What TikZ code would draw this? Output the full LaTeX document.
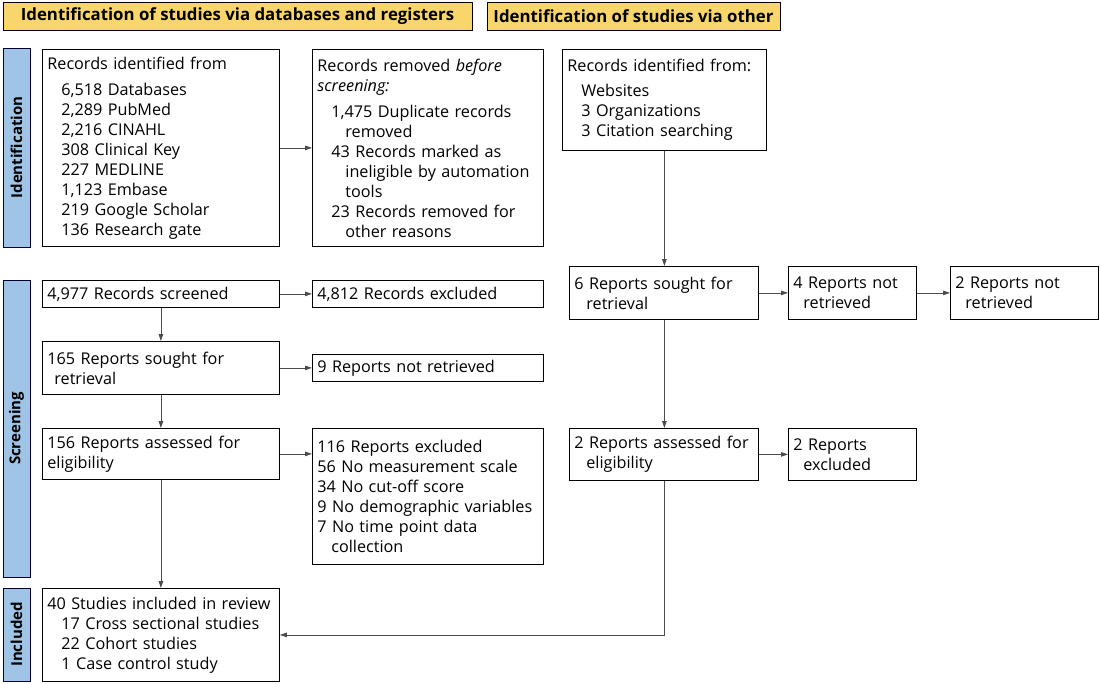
\documentclass[tikz,border=0pt]{standalone}
\usepackage{fontspec}
\setmainfont{Open Sans}
\usetikzlibrary{
	arrows.meta,
	positioning,
}
\definecolor{headgold}{RGB}{248,214,108}
\definecolor{stageblue}{RGB}{160,196,230}
\newcommand{\ind}{\hspace*{14pt}}
\tikzset{flowbox/.style={
		% The shape:
		rectangle,
		% The border:
		draw=black, line width=0.8pt,
		% text starts top left
		anchor=north west, align=left,
		inner xsep=5pt, inner ysep=0pt,
		font=\fontsize{16.2}{20}\selectfont,
}}
\tikzset{headbox/.style={
		% The shape:
		rectangle, minimum height=28pt,
		% The rest
		draw=black, line width=0.8pt, fill=headgold,
		font=\fontsize{16.8}{18}\selectfont\bfseries,
}}
\tikzset{stagebar/.style={
		% The shape:
		rectangle, minimum height=27pt, rotate=90,
		% The rest
		draw=black!80!blue, line width=0.8pt, fill=stageblue,
		font=\fontsize{15}{18}\selectfont\bfseries,
}}

\begin{document}
\begin{tikzpicture}[x=1pt,y=-1pt,>={Triangle[length=7pt,width=4.5pt]},
	line width=0.8pt]
	\useasboundingbox (0,0) rectangle (1100,683);
	% headers and stage bars
	\node[headbox, minimum width=469pt] (headdb) at (237.5,16) {Identification of studies via databases and registers};
	\node[headbox, minimum width=293pt] (headother) at (633.5,16) {Identification of studies via other};
	\node[stagebar, minimum width=199pt] (barident) at (16.5,147.5) {Identification};
	\node[stagebar, minimum width=297pt] (barscreen) at (16.5,428.5) {Screening};
	\node[stagebar, minimum width=93pt] (barincl) at (16.5,634.5) {Included};
	% databases and registers
	\node[flowbox, minimum width=237pt, minimum height=197pt, text width=227pt] (identdb) at (42,49) {Records identified from\\[6pt]
		\ind 6,518 Databases\\ \ind 2,289 PubMed\\ \ind 2,216 CINAHL\\ \ind 308 Clinical Key\\
		\ind 227 MEDLINE\\ \ind 1,123 Embase\\ \ind 219 Google Scholar\\ \ind 136 Research gate};
	\node[flowbox, minimum width=231pt, minimum height=197pt, text width=221pt] (removed) at (312,49) {Records removed \textit{before}\\ \textit{screening:}\\[6pt]
		\ind 1,475 Duplicate records\\ \ind\ind removed\\ \ind 43 Records marked as\\ \ind\ind ineligible by automation\\
		\ind\ind tools\\ \ind 23 Records removed for\\ \ind\ind other reasons};
	\node[flowbox, minimum width=237pt, minimum height=27pt, text width=227pt] (screened) at (42,280) {4,977 Records screened};
	\node[flowbox, minimum width=231pt, minimum height=27pt, text width=221pt] (exclrec) at (312,280) {4,812 Records excluded};
	\node[flowbox, minimum width=237pt, minimum height=53pt, text width=227pt] (sought) at (42,341) {165 Reports sought for\\ \hspace*{7pt}retrieval};
	\node[flowbox, minimum width=231pt, minimum height=27pt, text width=221pt] (notret) at (312,354) {9 Reports not retrieved};
	\node[flowbox, minimum width=237pt, minimum height=51pt, text width=227pt] (assessed) at (42,428) {156 Reports assessed for\\ eligibility};
	\node[flowbox, minimum width=231pt, minimum height=136pt, text width=221pt] (exclrep) at (312,428) {116 Reports excluded\\ 56 No measurement scale\\
		34 No cut-off score\\ 9 No demographic variables\\ 7 No time point data\\ \ind collection};
	\node[flowbox, minimum width=237pt, minimum height=93pt, text width=227pt] (included) at (42,588) {40 Studies included in review\\
		\ind 17 Cross sectional studies\\ \ind 22 Cohort studies\\ \ind 1 Case control study};
	% other methods
	\node[flowbox, minimum width=204pt, minimum height=101pt, text width=194pt] (otherid) at (562,49) {Records identified from:\\[5pt]
		\ind Websites\\ \ind 3 Organizations\\ \ind 3 Citation searching};
	\node[flowbox, minimum width=189pt, minimum height=53pt, text width=179pt] (osought) at (569,266) {6 Reports sought for\\ \hspace*{12pt}retrieval};
	\node[flowbox, minimum width=128pt, minimum height=53pt, text width=118pt] (onotret) at (788,266) {4 Reports not\\ \hspace*{10pt}retrieved};
	\node[flowbox, minimum width=148pt, minimum height=53pt, text width=138pt] (onotrettwo) at (950,266) {2 Reports not\\ \hspace*{10pt}retrieved};
	\node[flowbox, minimum width=189pt, minimum height=52pt, text width=179pt] (oassessed) at (569,428) {2 Reports assessed for\\ \hspace*{12pt}eligibility};
	\node[flowbox, minimum width=128pt, minimum height=52pt, text width=118pt] (oexcl) at (788,428) {2 Reports\\ \hspace*{10pt}excluded};
	% connectors
	\draw[->,black!70] (identdb) -- (removed);
	\draw[->,black!70] (screened) -- (exclrec);
	\draw[->,black!70] (sought) -- (notret);
	\draw[->,black!70] (assessed) -- (assessed.east -| exclrep.west);
	\draw[->,black!70] (screened) -- (sought);
	\draw[->,black!70] (sought) -- (assessed);
	\draw[->,black!70] (assessed) -- (included);
	\draw[->,black!70] (otherid) -- (otherid.south |- osought.north);
	\draw[->,black!70] (osought) -- (onotret);
	\draw[->,black!70] (onotret) -- (onotrettwo);
	\draw[->,black!70] (osought.south -| otherid.south) -- (otherid.south |- oassessed.north);
	\draw[->,black!70] (oassessed) -- (oexcl);
	\draw[->,black!70] (otherid.south |- oassessed.south) |- (included.east);
\end{tikzpicture}
\end{document}
